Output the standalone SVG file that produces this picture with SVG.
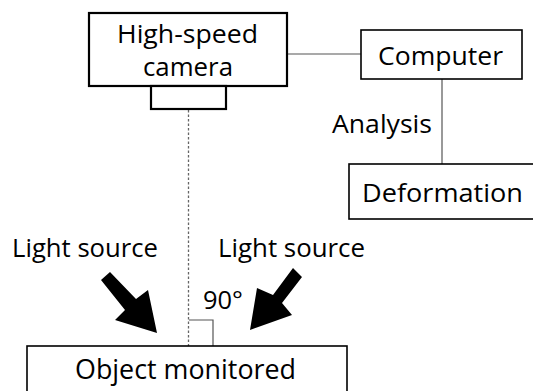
<svg xmlns="http://www.w3.org/2000/svg" width="533" height="391" viewBox="0 0 533 391">
<style>
.box{fill:#fff;stroke:#000;stroke-width:1.6}
.thick{stroke-width:2.2}
.line{stroke:#555;stroke-width:1.2;fill:none}
.dash{stroke:#666;stroke-width:1.3;stroke-dasharray:2.5 2;fill:none}
.t{font-family:"Open Sans","Liberation Sans",sans-serif;font-size:25px;fill:#000}
.big{font-size:27px}
.arrow{fill:#000}
</style>
<rect width="533" height="391" fill="#fff"/>
<g id="connectors">
<line class="line" x1="287" y1="54" x2="361" y2="54"/>
<line class="line" x1="442" y1="79" x2="442" y2="164"/>
<line class="dash" x1="188.5" y1="110" x2="188.5" y2="346"/>
<polyline class="line" points="189,320 213,320 213,346"/>
</g>
<g id="camera">
<rect class="box thick" x="89" y="13" width="198" height="73"/>
<rect class="box thick" x="151" y="86" width="75" height="23"/>
<text class="t" x="117" y="43" textLength="141" lengthAdjust="spacingAndGlyphs">High-speed</text>
<text class="t" x="143" y="76" textLength="90" lengthAdjust="spacingAndGlyphs">camera</text>
</g>
<g id="computer">
<rect class="box" x="361" y="30" width="161" height="49"/>
<text class="t" x="378" y="65" textLength="125" lengthAdjust="spacingAndGlyphs">Computer</text>
</g>
<g id="analysis">
<text class="t" x="332" y="133" textLength="100" lengthAdjust="spacingAndGlyphs">Analysis</text>
</g>
<g id="deformation">
<rect class="box" x="349" y="164" width="190" height="55"/>
<text class="t" x="362" y="202" textLength="161" lengthAdjust="spacingAndGlyphs">Deformation</text>
</g>
<g id="light-left">
<text class="t" x="12" y="257" textLength="146" lengthAdjust="spacingAndGlyphs">Light source</text>
<polygon class="arrow" points="101,280 110,272 136,299 148,290 157,333 115,320 125,310"/>
</g>
<g id="light-right">
<text class="t" x="218" y="257" textLength="147" lengthAdjust="spacingAndGlyphs">Light source</text>
<polygon class="arrow" points="293,268 302,277 282,303 292,315 250,330 257,288 273,295"/>
</g>
<g id="angle">
<text class="t" x="203" y="309" textLength="40" lengthAdjust="spacingAndGlyphs">90°</text>
</g>
<g id="object">
<rect class="box" x="27" y="346" width="320" height="60"/>
<text class="t big" x="75" y="379" textLength="221" lengthAdjust="spacingAndGlyphs">Object monitored</text>
</g>
</svg>
